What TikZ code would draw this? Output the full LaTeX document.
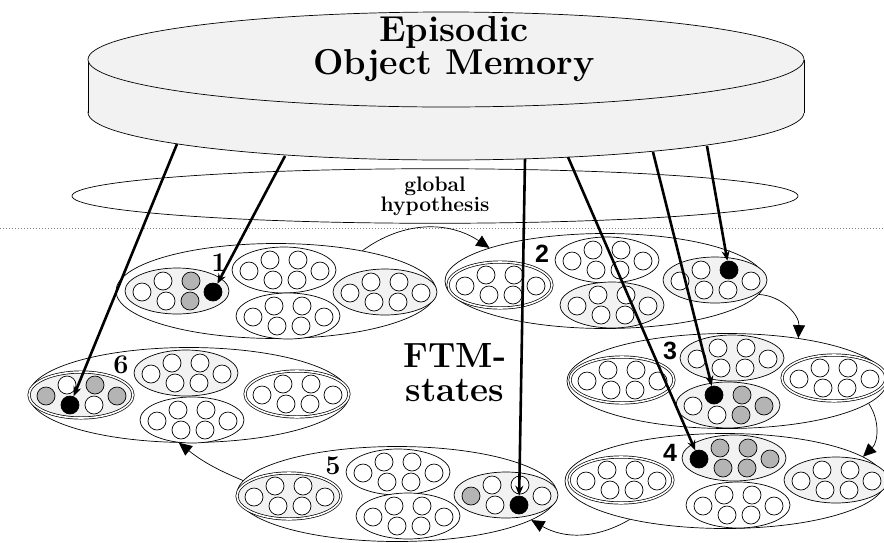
\documentclass[tikz,border=0pt]{standalone}
\usepackage{fontspec}
\usepackage{tikz}
\usetikzlibrary{arrows.meta}
\usetikzlibrary{shapes.geometric}
\definecolor{litegray}{HTML}{F2F2F2}
\definecolor{dotgray}{HTML}{B4B4B4}
\newfontfamily\numfont{Liberation Sans}

% one cluster: name, position, extra style, fills of its six items
\newcommand{\clus}[4]{%
  \node[sub,#3] (#1) at #2 {};
  \foreach \f [count=\i] in {#4}{
    \pgfmathsetmacro{\dx}{{-35,-14,14,36,13,-11}[\i-1]}
    \pgfmathsetmacro{\dy}{{1,-10,-10,1,10,10}[\i-1]}
    \node[item,\f] (#1-\i) at ([shift={(\dx,\dy)}]#1.center) {};
  }
}

\begin{document}
\begin{tikzpicture}[x=1pt,y=-1pt,line width=0.7pt,
  state/.style={ellipse,draw,minimum width=320pt,minimum height=95pt,inner sep=0pt},
  sub/.style={ellipse,draw,fill=white,minimum width=104pt,minimum height=46pt,inner sep=0pt},
  lite/.style={fill=litegray},
  dbl/.style={double,double distance=1.6pt},
  item/.style={circle,draw,fill=white,minimum size=18pt,inner sep=0pt},
  iw/.style={},ig/.style={fill=dotgray},ik/.style={fill=black},
  num/.style={font=\bfseries\fontsize{27}{27}\selectfont,inner sep=0pt},
  snum/.style={font=\numfont\bfseries\fontsize{25}{25}\selectfont,inner sep=0pt},
  link/.style={line width=2.6pt,-{Stealth[length=10pt,width=8pt]}},
  trans/.style={-{Triangle[length=13pt,width=12pt]}}]

\useasboundingbox (0,0) rectangle (884,542);

\draw[gray,dash pattern=on 0.8pt off 2.2pt] (0,228) -- (884,228);

% global hypothesis
\node[ellipse,draw,minimum width=726pt,minimum height=48pt,inner sep=0pt,
  align=center,font=\bfseries\fontsize{21}{18}\selectfont] (gh) at (435,196) {global\\hypothesis};

% memory
\draw[fill=litegray] (446,112.5) ellipse (358 and 47.5);
\fill[litegray] (88,59.5) rectangle (804,112.5);
\draw (88,59.5) -- (88,112.5) (804,59.5) -- (804,112.5);
\draw[fill=litegray] (446,59.5) ellipse (358 and 47.5);
\node[align=center,font=\bfseries\fontsize{36}{33}\selectfont] (mem) at (454,49) {Episodic\\Object Memory};

\foreach \n/\x/\y in {s1/276/291,s2/605/281,s3/727/381,s4/725/481,s5/397/494,s6/189/395}
  \node[state] (\n) at (\x,\y) {};

\clus{s1a}{(177,291)}{lite}{iw,iw,ig,ik,ig,iw}
\clus{s1b}{(284,270)}{}{iw,iw,iw,iw,iw,iw}
\clus{s1c}{(288,316)}{}{iw,iw,iw,iw,iw,iw}
\clus{s1d}{(385,292)}{lite}{iw,iw,iw,iw,iw,iw}

\clus{s2a}{(500,285)}{dbl}{iw,iw,iw,iw,iw,iw}
\clus{s2b}{(607,260)}{}{iw,iw,iw,iw,iw,iw}
\clus{s2c}{(612,305)}{lite}{iw,iw,iw,iw,iw,iw}
\clus{s2d}{(715,280)}{lite}{iw,iw,ik,iw,iw,iw}

\clus{s3a}{(622,380)}{dbl}{iw,iw,iw,iw,iw,iw}
\clus{s3b}{(732,358)}{lite}{iw,iw,iw,iw,iw,iw}
\clus{s3c}{(728,405)}{lite}{iw,ik,ig,ig,ig,iw}
\clus{s3d}{(834,378)}{dbl}{iw,iw,iw,iw,iw,iw}

\clus{s4a}{(621,480)}{dbl}{iw,iw,iw,iw,iw,iw}
\clus{s4b}{(734,458)}{lite}{ik,ig,ig,ig,ig,ig}
\clus{s4c}{(738,505)}{}{iw,iw,iw,iw,iw,iw}
\clus{s4d}{(836,480)}{lite}{iw,iw,iw,iw,iw,iw}

\clus{s5a}{(289,496)}{lite,dbl}{iw,iw,iw,iw,iw,iw}
\clus{s5b}{(398,472)}{}{iw,iw,iw,iw,iw,iw}
\clus{s5c}{(408,516)}{}{iw,iw,iw,iw,iw,iw}
\clus{s5d}{(506,495)}{lite}{ig,iw,iw,iw,ik,iw}

\clus{s6a}{(81,395)}{lite,dbl}{ig,iw,ig,ig,iw,ik}
\clus{s6b}{(186,373)}{lite}{iw,iw,iw,iw,iw,iw}
\clus{s6c}{(192,420)}{}{iw,iw,iw,iw,iw,iw}
\clus{s6d}{(297,394)}{dbl}{iw,iw,iw,iw,iw,iw}

\node[num] (n1) at (219,263) {1};
\node[snum] (n2) at (542,254) {2};
\node[snum] (n3) at (670,351) {3};
\node[snum] (n4) at (670,453) {4};
\node[num] (n5) at (333,466) {5};
\node[num] (n6) at (121,365) {6};
\node[align=center,font=\bfseries\fontsize{35}{34}\selectfont] (ftm) at (455,373) {FTM-\\states};

% state transitions
\draw[trans] (s1.25) to[bend left=35] (s2.164);
\draw[trans] (s2.-5) to[bend left=45] (s3.31);
\draw[trans] (s3.-9) to[bend left=40] (s4.10);
\draw[trans] (s4.202) to[bend left=30] (s5.-11);
\draw[trans] (s5.175) to[bend left=8] (s6.258);

% memory access
\coordinate (m1) at (177,144);
\coordinate (m2) at (285,156);
\coordinate (m3) at (525,159);
\coordinate (m4) at (568,157);
\coordinate (m5) at (653,152);
\coordinate (m6) at (707,146);
\draw[link] (m1) -- (s6a-6);
\draw[link] (m2) -- (s1a-4);
\draw[link] (m3) -- (s5d-5);
\draw[link] (m4) -- (s4b-1);
\draw[link] (m5) -- (s3c-2);
\draw[link] (m6) -- (s2d-3);
\end{tikzpicture}
\end{document}
